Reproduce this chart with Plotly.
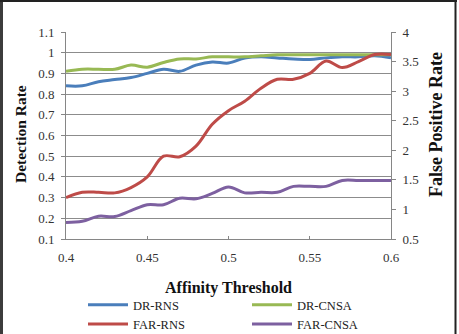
import plotly.graph_objects as go

threshold = [0.40, 0.41, 0.42, 0.43, 0.44, 0.45, 0.46, 0.47, 0.48, 0.49, 0.50,
             0.51, 0.52, 0.53, 0.54, 0.55, 0.56, 0.57, 0.58, 0.59, 0.60]
dr_rns = [0.84, 0.84, 0.86, 0.87, 0.88, 0.90, 0.92, 0.91, 0.94, 0.955, 0.95,
          0.974, 0.98, 0.975, 0.97, 0.967, 0.975, 0.98, 0.98, 0.985, 0.975]
dr_cnsa = [0.91, 0.92, 0.92, 0.92, 0.94, 0.93, 0.953, 0.97, 0.97, 0.98, 0.98,
           0.98, 0.985, 0.99, 0.99, 0.99, 0.99, 0.99, 0.99, 0.99, 0.99]
far_rns = [1.20, 1.29, 1.29, 1.28, 1.37, 1.55, 1.90, 1.89, 2.07, 2.44, 2.67,
           2.83, 3.05, 3.20, 3.20, 3.30, 3.51, 3.40, 3.50, 3.62, 3.62]
far_cnsa = [0.78, 0.80, 0.885, 0.88, 0.98, 1.08, 1.08, 1.19, 1.18, 1.27, 1.38,
            1.28, 1.29, 1.29, 1.39, 1.39, 1.39, 1.49, 1.49, 1.49, 1.49]

FONT = "Liberation Serif"

fig = go.Figure()
fig.add_trace(go.Scatter(x=threshold, y=dr_rns, name="DR-RNS", mode="lines", legend="legend",
                         line=dict(color="#4A7EBB", width=3, shape="spline")))
fig.add_trace(go.Scatter(x=threshold, y=dr_cnsa, name="DR-CNSA", mode="lines", legend="legend2",
                         line=dict(color="#98B954", width=3, shape="spline")))
fig.add_trace(go.Scatter(x=threshold, y=far_rns, name="FAR-RNS", mode="lines", yaxis="y2",
                         legend="legend",
                         line=dict(color="#BE4B48", width=3, shape="spline")))
fig.add_trace(go.Scatter(x=threshold, y=far_cnsa, name="FAR-CNSA", mode="lines", yaxis="y2",
                         legend="legend2",
                         line=dict(color="#7D60A0", width=3, shape="spline")))

axis_grey = "#868686"
legend_common = dict(orientation="v", xref="container", yref="container",
                     xanchor="left", y=1 - 290 / 334, yanchor="top", traceorder="normal",
                     font=dict(size=12.5, family=FONT, color="#222"), itemwidth=40,
                     bgcolor="rgba(0,0,0,0)", tracegroupgap=0)
fig.update_layout(
    width=459, height=334,
    margin=dict(l=66, r=68, t=32, b=95, autoexpand=False),
    paper_bgcolor="white", plot_bgcolor="white",
    font=dict(family=FONT, size=13, color="#222"),
    xaxis=dict(range=[0.4, 0.6], tickvals=[0.4, 0.45, 0.5, 0.55, 0.6],
               ticktext=["0.4", "0.45", "0.5", "0.55", "0.6"],
               showgrid=False, zeroline=False, showline=True, linecolor=axis_grey,
               ticks="inside", ticklen=3, tickcolor=axis_grey, ticklabelstandoff=6,
               tickfont=dict(size=13, family=FONT, color="#333"),
               title=dict(text="<b>Affinity Threshold</b>", font=dict(size=16, family=FONT, color="#111"),
                          standoff=18)),
    yaxis=dict(range=[0.1, 1.1], dtick=0.1, tickformat=".1~f",
               showgrid=True, gridcolor="#8c8c8c", gridwidth=1, zeroline=False,
               showline=True, linecolor=axis_grey, ticks="outside", ticklen=4, tickcolor=axis_grey,
               ticklabelstandoff=4,
               tickfont=dict(size=13, family=FONT, color="#333")),
    yaxis2=dict(range=[0.5, 4], dtick=0.5, overlaying="y", side="right", tickformat=".1~f",
                showgrid=False, zeroline=False, showline=True, linecolor=axis_grey,
                ticks="outside", ticklen=4, tickcolor=axis_grey, ticklabelstandoff=4,
                tickfont=dict(size=13, family=FONT, color="#333")),
    legend=dict(x=83 / 459, **legend_common),
    legend2=dict(x=247 / 459, **legend_common),
    showlegend=True,
)

# axis titles
fig.add_annotation(text="<b>Detection Rate</b>", xref="paper", yref="paper",
                   x=(20 - 66) / 325, y=(239 - 134) / 207, textangle=-90, showarrow=False,
                   xanchor="center", yanchor="middle",
                   font=dict(size=15.5, family=FONT, color="#111"))
fig.add_annotation(text="<b>False Positive Rate</b>", xref="paper", yref="paper",
                   x=(436 - 66) / 325, y=(239 - 125) / 207, textangle=-90, showarrow=False,
                   xanchor="center", yanchor="middle",
                   font=dict(size=18, family=FONT, color="#111"))

# outer frame
def px_x(p):
    return (p - 66) / 325.0

def px_y(p):
    return (239 - p) / 207.0

fig.add_shape(type="rect", xref="paper", yref="paper",
              x0=px_x(0), x1=px_x(3), y0=px_y(334), y1=px_y(0),
              line=dict(width=0), fillcolor="#3c3c3c", layer="above")
fig.add_shape(type="line", xref="paper", yref="paper",
              x0=px_x(0), x1=px_x(457), y0=px_y(1), y1=px_y(1),
              line=dict(color="#222", width=2), layer="above")
fig.add_shape(type="line", xref="paper", yref="paper",
              x0=px_x(455.5), x1=px_x(455.5), y0=px_y(0), y1=px_y(334),
              line=dict(color="#222", width=2), layer="above")

fig.write_html("out.html")
